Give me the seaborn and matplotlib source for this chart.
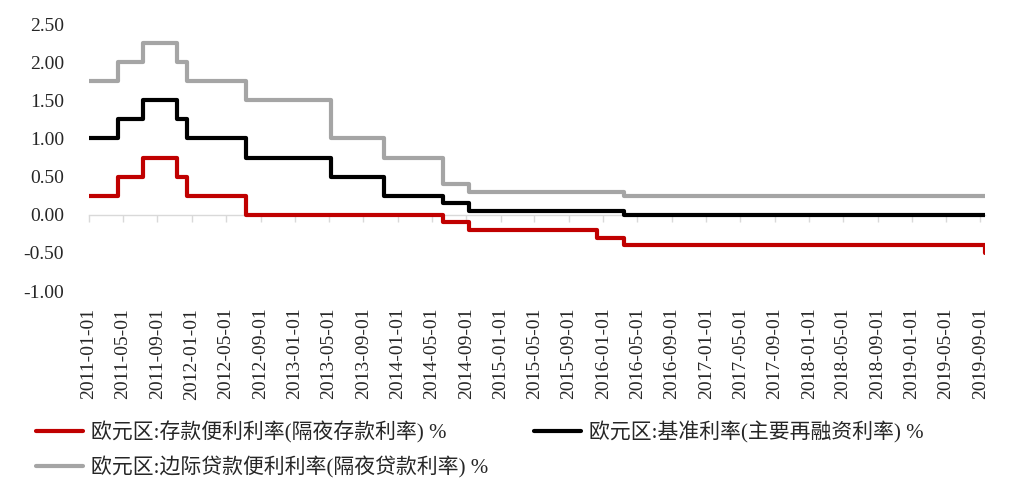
'''
ECB policy rates, 2011-2019 (step chart)
'''

import pandas as pd
import seaborn as sns
import matplotlib.pyplot as plt
import matplotlib.dates as mdates

# dates on which any of the three rates changed (last = end of data)
change_dates = ['2011-01-01', '2011-04-13', '2011-07-13', '2011-11-09',
                '2011-12-14', '2012-07-11', '2013-05-08', '2013-11-13',
                '2014-06-11', '2014-09-10', '2015-12-09', '2016-03-16',
                '2019-09-18']
deposit_rate = [0.25, 0.50, 0.75, 0.50, 0.25, 0.00, 0.00, 0.00,
                -0.10, -0.20, -0.30, -0.40, -0.50]
main_rate = [1.00, 1.25, 1.50, 1.25, 1.00, 0.75, 0.50, 0.25,
             0.15, 0.05, 0.05, 0.00, 0.00]
lending_rate = [1.75, 2.00, 2.25, 2.00, 1.75, 1.50, 1.00, 0.75,
                0.40, 0.30, 0.30, 0.25, 0.25]

series_names = ['欧元区:存款便利利率(隔夜存款利率) %',
                '欧元区:基准利率(主要再融资利率) %',
                '欧元区:边际贷款便利利率(隔夜贷款利率) %']
colors = ['#C00000', '#000000', '#A5A5A5']


def plot_rates():
    sns.set_style('white')
    plt.rcParams['font.family'] = ['Liberation Serif', 'Noto Sans CJK SC']

    wide = pd.DataFrame({'date': pd.to_datetime(change_dates),
                         series_names[0]: deposit_rate,
                         series_names[1]: main_rate,
                         series_names[2]: lending_rate})
    data = wide.melt(id_vars='date', var_name='series', value_name='rate')

    fig = plt.figure(figsize=(10.15, 4.9), dpi=100)
    ax = fig.add_axes([0.0877, 0.406, 0.883, 0.545])

    sns.lineplot(data=data, x='date', y='rate', hue='series',
                 hue_order=series_names, palette=colors,
                 drawstyle='steps-post', linewidth=3.0,
                 solid_joinstyle='round', solid_capstyle='round',
                 legend=True, ax=ax)

    ax.set_xlim(wide['date'].iloc[0], wide['date'].iloc[-1])
    ax.set_ylim(-1.0, 2.5)
    ax.set_yticks([-1.0, -0.5, 0.0, 0.5, 1.0, 1.5, 2.0, 2.5])
    ax.yaxis.set_major_formatter(plt.FormatStrFormatter('%.2f'))
    ax.xaxis.set_major_locator(mdates.MonthLocator(bymonth=[1, 5, 9]))
    ax.xaxis.set_major_formatter(mdates.DateFormatter('%Y-%m-%d'))
    ax.tick_params(axis='x', length=0, pad=12, labelsize=14,
                   labelrotation=90)
    ax.tick_params(axis='y', length=0, pad=18, labelsize=14)
    ax.set_xlabel('')
    ax.set_ylabel('')
    for side in ['left', 'right', 'top', 'bottom']:
        ax.spines[side].set_visible(False)

    # zero line with small tick marks, like the original
    zero_pos = 1.0 / 3.5
    zero_axis = ax.secondary_xaxis(zero_pos)
    zero_axis.set_xticks(ax.get_xticks())
    zero_axis.tick_params(axis='x', direction='out', length=5, width=1,
                          color='#D9D9D9', labelbottom=False,
                          labeltop=False, bottom=True, top=False)
    zero_axis.spines['bottom'].set_color('#D9D9D9')
    zero_axis.spines['bottom'].set_linewidth(1)
    zero_axis.spines['top'].set_visible(False)
    zero_axis.set_zorder(0)
    ax.set_zorder(1)
    ax.patch.set_visible(False)

    handles, labels = ax.get_legend_handles_labels()
    order = [0, 2, 1]
    ax.legend([handles[i] for i in order], [labels[i] for i in order],
              ncol=2, frameon=False, fontsize=15, loc='upper left',
              bbox_to_anchor=(0.027, 0.158), bbox_transform=fig.transFigure,
              borderaxespad=0, handlelength=2.25, handletextpad=0.4,
              columnspacing=2.2, labelspacing=0.62)

    plt.savefig('out.png', dpi=100)


def main():
    plot_rates()


if __name__ == '__main__':
    main()
